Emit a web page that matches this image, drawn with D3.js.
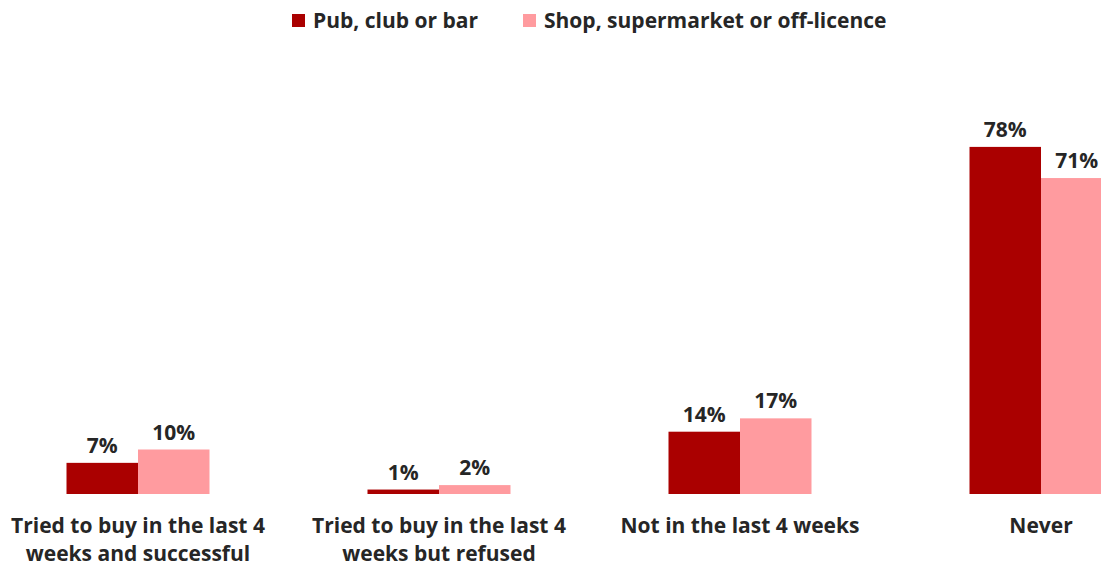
<!DOCTYPE html>
<html>
<head>
<meta charset="utf-8">
<script src="https://cdn.jsdelivr.net/npm/d3@7"></script>
<style>
  html, body { margin: 0; padding: 0; background: #fff; }
  svg { display: block; }
  text { font-family: "Open Sans", "Segoe UI", sans-serif; font-weight: 700; fill: #262626; }
</style>
</head>
<body>
<svg id="chart" width="1101" height="569"></svg>
<script>
// Where young people tried to buy alcohol
const categories = [
  ["Tried to buy in the last 4", "weeks and successful"],
  ["Tried to buy in the last 4", "weeks but refused"],
  ["Not in the last 4 weeks"],
  ["Never"]
];
const seriesNames = ["Pub, club or bar", "Shop, supermarket or off-licence"];
const pubValues = [7, 1, 14, 78];
const shopValues = [10, 2, 17, 71];
const seriesColors = ["#AA0000", "#FF9B9F"];

const svg = d3.select("#chart");

const keys = categories.map((c, i) => i);
const x0 = d3.scaleBand().domain(keys).range([-12.5, 1191.5]).padding(0);
const barW = 71.5;
const x1 = d3.scaleBand().domain(seriesNames)
  .range([x0.bandwidth() / 2 - barW, x0.bandwidth() / 2 + barW]).padding(0);
const y = d3.scaleLinear().domain([0, 100]).range([494, 49]);

const series = [pubValues, shopValues];
const FS = 21;

const groups = svg.append("g").selectAll("g")
  .data(keys).join("g")
  .attr("transform", i => `translate(${x0(i)},0)`);

groups.selectAll("rect")
  .data(i => seriesNames.map((s, k) => ({ s, k, v: series[k][i] })))
  .join("rect")
  .attr("x", d => x1(d.s))
  .attr("width", x1.bandwidth())
  .attr("y", d => y(d.v))
  .attr("height", d => y(0) - y(d.v))
  .attr("fill", d => seriesColors[d.k]);

groups.selectAll("text.val")
  .data(i => seriesNames.map((s, k) => ({ s, k, v: series[k][i] })))
  .join("text")
  .attr("class", "val")
  .attr("x", d => x1(d.s) + x1.bandwidth() / 2)
  .attr("y", d => y(d.v) - 10)
  .attr("text-anchor", "middle")
  .attr("font-size", FS)
  .text(d => d.v + "%");

// category labels below the bars
groups.append("text")
  .attr("text-anchor", "middle")
  .attr("font-size", FS)
  .each(function (i) {
    const t = d3.select(this);
    categories[i].forEach((line, j) => {
      t.append("tspan")
        .attr("x", x0.bandwidth() / 2)
        .attr("y", 533 + j * 28)
        .text(line);
    });
  });

// legend
const legendX = [292, 523];
const legend = svg.append("g").selectAll("g")
  .data(seriesNames).join("g")
  .attr("transform", (d, k) => `translate(${legendX[k]},0)`);
legend.append("rect")
  .attr("x", 0).attr("y", 14).attr("width", 13).attr("height", 13)
  .attr("fill", (d, k) => seriesColors[k]);
legend.append("text")
  .attr("x", 21).attr("y", 28)
  .attr("font-size", FS)
  .text(d => d);
</script>
</body>
</html>
